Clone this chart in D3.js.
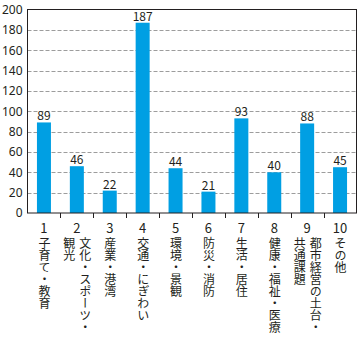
<!DOCTYPE html>
<html><head><meta charset="utf-8">
<script src="https://cdn.jsdelivr.net/npm/d3@7"></script>
<style>body{margin:0;background:#fff}#wrap{position:relative;width:360px;height:341px}svg{display:block}text{font-family:"Noto Sans CJK JP","Noto Sans",sans-serif;fill:#231f20}
.vl{position:absolute;writing-mode:vertical-rl;text-orientation:upright;font-family:"Noto Sans CJK JP",sans-serif;font-size:12px;line-height:16px;width:16px;color:#231f20;white-space:nowrap}</style>
</head><body><div id="wrap"><svg id="c" width="360" height="341"></svg></div>
<script>
const categories = ["1","2","3","4","5","6","7","8","9","10"];
const labelLines = [["子育て・教育"],["文化・スポーツ・","観光"],["産業・港湾"],["交通・にぎわい"],["環境・景観"],["防災・消防"],["生活・居住"],["健康・福祉・医療"],["都市経営の土台・","共通課題"],["その他"]];
const values = [89,46,22,187,44,21,93,40,88,45];
const yTicks = [0,20,40,60,80,100,120,140,160,180,200];

const svg = d3.select("#c");
const L=27.5, R=356.5, T=9.5, B=213;
const x = d3.scaleBand().domain(categories).range([L,R]).paddingInner(0).paddingOuter(0);
const y = d3.scaleLinear().domain([0,200]).range([B,T]);
const bw = 14;

svg.append("g").selectAll("line").data(yTicks.filter(d=>d>0&&d<200)).join("line")
  .attr("x1",L).attr("x2",R).attr("y1",d=>Math.round(y(d))+0.5).attr("y2",d=>Math.round(y(d))+0.5)
  .attr("stroke","#9d9d9d").attr("stroke-width",1).attr("stroke-dasharray","4,2");

svg.append("g").selectAll("rect").data(values).join("rect")
  .attr("x",(d,i)=>x(categories[i])+(x.bandwidth()-bw)/2).attr("width",bw)
  .attr("y",d=>y(d)).attr("height",d=>B-y(d)).attr("fill","#009fe3");

svg.append("g").selectAll("text").data(values).join("text")
  .attr("x",(d,i)=>x(categories[i])+x.bandwidth()/2).attr("y",d=>y(d)-2)
  .attr("text-anchor","middle").attr("font-size",12).text(d=>d);

svg.append("rect").attr("x",L).attr("y",T).attr("width",R-L).attr("height",B-T)
  .attr("fill","none").attr("stroke","#231f20").attr("stroke-width",1);

const ya = d3.axisLeft(y).tickValues(yTicks).tickSize(0).tickPadding(5);
const gy = svg.append("g").attr("transform",`translate(${L},0)`).call(ya);
gy.select(".domain").remove();
gy.selectAll("text").attr("font-size",12).attr("fill","#231f20").style("font-family",'"Noto Sans","Noto Sans CJK JP",sans-serif');

const bounds = categories.slice(1).map(c=>x(c));
svg.append("g").selectAll("line").data(bounds).join("line")
  .attr("x1",d=>Math.round(d)+0.5).attr("x2",d=>Math.round(d)+0.5).attr("y1",B).attr("y2",B+5)
  .attr("stroke","#231f20");

svg.append("g").selectAll("text").data(categories).join("text")
  .attr("x",d=>x(d)+x.bandwidth()/2).attr("y",233)
  .attr("text-anchor","middle").attr("font-size",13).text(d=>d);

const wrap = d3.select("#wrap");
labelLines.forEach((lines,i)=>{
  const cx = x(categories[i])+x.bandwidth()/2;
  const n = lines.length;
  lines.forEach((ln,j)=>{
    const off = (n-1)/2*16 - j*16;
    wrap.append("div").attr("class","vl")
      .style("left",(cx+off-8)+"px").style("top","237px").text(ln);
  });
});
</script></body></html>
